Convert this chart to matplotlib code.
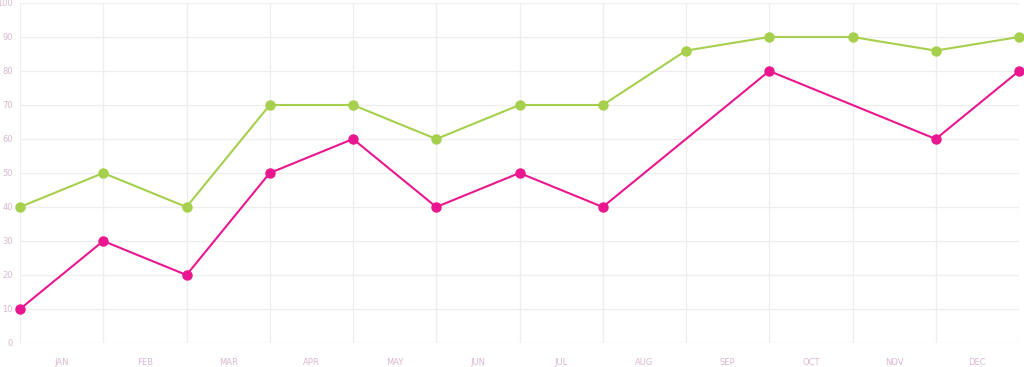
import matplotlib
matplotlib.use("Agg")
import matplotlib.pyplot as plt
import numpy as np

months = ["JAN", "FEB", "MAR", "APR", "MAY", "JUN", "JUL", "AUG", "SEP", "OCT", "NOV", "DEC"]
green_vals = [40, 50, 40, 70, 70, 60, 70, 70, 86, 90, 90, 86, 90]
pink_vals = [10, 30, 20, 50, 60, 40, 50, 40, None, 80, None, 60, 80]
y_ticks = list(range(0, 101, 10))

green_col = "#a5cf4c"
pink_col = "#e9168f"
label_col = "#d9b8d0"
grid_col = "#eeeeee"

fig = plt.figure(figsize=(10.24, 3.67), dpi=100)
ax = fig.add_axes([20 / 1024, 24 / 367, 999 / 1024, 340 / 367])

x_all = np.arange(len(green_vals))
ax.plot(x_all, green_vals, color=green_col, lw=1.5, marker="o", ms=6.5, clip_on=False, zorder=3)

# pink series has gaps, the line just spans them
px = [i for i, v in enumerate(pink_vals) if v is not None]
py = [v for v in pink_vals if v is not None]
ax.plot(px, py, color=pink_col, lw=1.5, marker="o", ms=6.5, clip_on=False, zorder=4)

ax.set_xlim(0, len(green_vals) - 1)
ax.set_ylim(0, 100)

ax.set_xticks(x_all, minor=False)
ax.set_xticklabels([])
ax.set_xticks(np.arange(len(months)) + 0.5, minor=True)
ax.set_xticklabels(months, minor=True)
ax.set_yticks(y_ticks)
ax.set_yticklabels([str(t) for t in y_ticks])

ax.tick_params(axis="x", which="both", length=0, pad=11, labelsize=6, labelcolor=label_col)
ax.tick_params(axis="y", length=0, pad=5, labelsize=6, labelcolor=label_col)

ax.grid(True, which="major", color=grid_col, lw=0.9)
ax.set_axisbelow(True)
for s in ax.spines.values():
    s.set_visible(False)

fig.savefig("out.png", dpi=100, facecolor="white")
